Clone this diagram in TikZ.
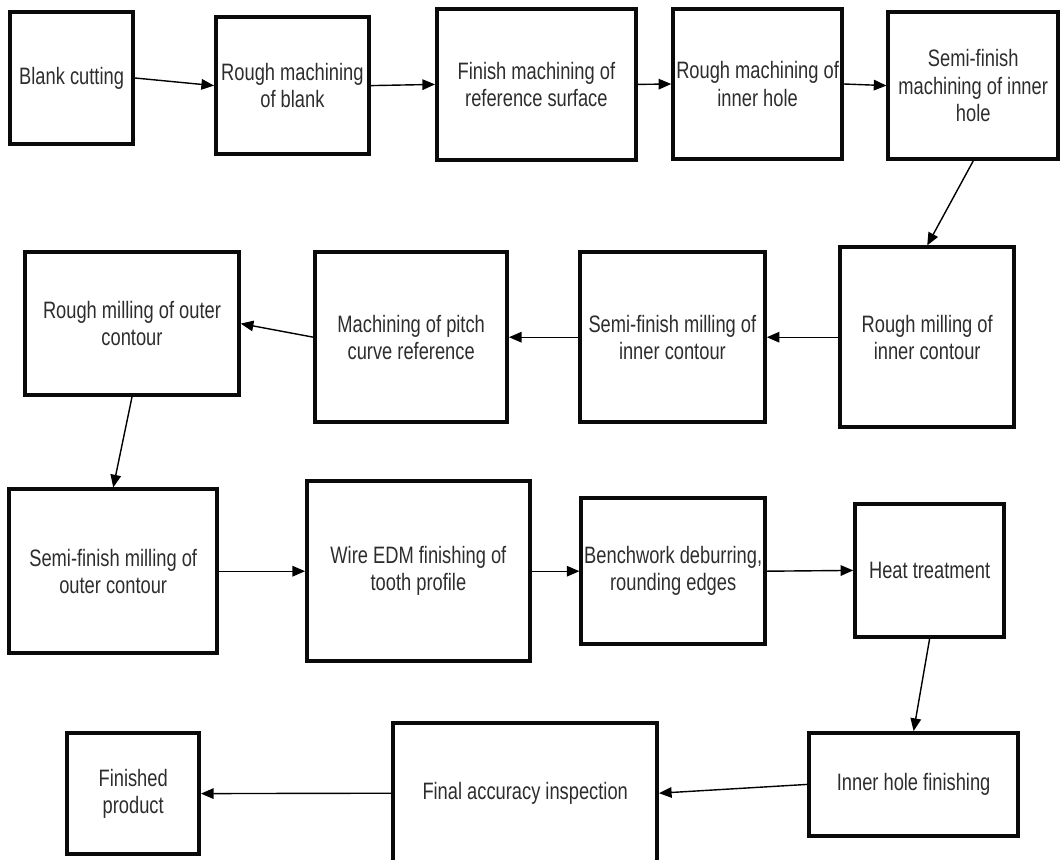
\documentclass[tikz,border=0pt]{standalone}
\usepackage{fontspec}
\setmainfont[FakeStretch=0.77]{Liberation Sans}
\definecolor{boxline}{RGB}{10, 10, 10}
\definecolor{labelgray}{RGB}{45, 45, 45}
\usepackage{tikz}
\usetikzlibrary{arrows.meta, positioning}

\begin{document}
\begin{tikzpicture}[
    stepbox/.style={draw=boxline, line width=2.5pt, align=center, inner sep=0pt,
      text=labelgray, font=\fontsize{16.9}{19.4}\selectfont},
    flow/.style={-{Triangle[length=9pt, width=7.5pt]}, line width=1pt, black}
  ]
  \path[use as bounding box, clip] (0, 0) rectangle (26.5, -21.475);

  % Row 1
  \node[stepbox, minimum width=3.08cm, minimum height=3.30cm] (blank) at (1.79, -1.95) {Blank cutting};
  \node[stepbox, minimum width=3.83cm, minimum height=3.43cm] (roughblank) at (7.31, -2.14) {Rough machining\\of blank};
  \node[stepbox, minimum width=4.98cm, minimum height=3.78cm] (finishref) at (13.41, -2.11) {Finish machining of\\reference surface};
  \node[stepbox, minimum width=4.23cm, minimum height=3.75cm] (roughhole) at (18.94, -2.10) {Rough machining of\\inner hole};
  \node[stepbox, minimum width=4.25cm, minimum height=3.68cm] (semihole) at (24.33, -2.14) {Semi-finish\\machining of inner\\hole};

  % Row 2
  \node[stepbox, minimum width=4.35cm, minimum height=4.50cm] (roughinner) at (23.18, -8.43) {Rough milling of\\inner contour};
  \node[stepbox, minimum width=4.63cm, minimum height=4.25cm] (semiinner) at (16.81, -8.43) {Semi-finish milling of\\inner contour};
  \node[stepbox, minimum width=4.80cm, minimum height=4.25cm] (pitch) at (10.28, -8.43) {Machining of pitch\\curve reference};
  \node[stepbox, minimum width=5.35cm, minimum height=3.58cm] (roughouter) at (3.30, -8.09) {Rough milling of outer\\contour};

  % Row 3
  \node[stepbox, minimum width=5.20cm, minimum height=4.10cm] (semiouter) at (2.83, -14.28) {Semi-finish milling of\\outer contour};
  \node[stepbox, minimum width=5.58cm, minimum height=4.50cm] (wire) at (10.46, -14.28) {Wire EDM finishing of\\tooth profile};
  \node[stepbox, minimum width=4.60cm, minimum height=3.65cm] (bench) at (16.83, -14.28) {Benchwork deburring,\\rounding edges};
  \node[stepbox, minimum width=3.73cm, minimum height=3.33cm] (heat) at (23.24, -14.26) {Heat treatment};

  % Row 4
  \node[stepbox, minimum width=5.23cm, minimum height=2.58cm] (innerfin) at (22.84, -19.61) {Inner hole finishing};
  \node[stepbox, minimum width=6.60cm, minimum height=3.50cm] (final) at (13.13, -19.83) {Final accuracy inspection};
  \node[stepbox, minimum width=3.30cm, minimum height=3.03cm] (finished) at (3.33, -19.84) {Finished\\product};

  % process flow
  \draw[flow] (blank.east) -- (roughblank.west);
  \draw[flow] (roughblank.east) -- (finishref.west);
  \draw[flow] (finishref.east) -- (roughhole.west);
  \draw[flow] (roughhole.east) -- (semihole.west);
  \draw[flow] (semihole.south) -- (roughinner.north);
  \draw[flow] (roughinner.west) -- (semiinner.east);
  \draw[flow] (semiinner.west) -- (pitch.east);
  \draw[flow] (pitch.west) -- (roughouter.east);
  \draw[flow] (roughouter.south) -- (semiouter.north);
  \draw[flow] (semiouter.east) -- (wire.west);
  \draw[flow] (wire.east) -- (bench.west);
  \draw[flow] (bench.east) -- (heat.west);
  \draw[flow] (heat.south) -- (innerfin.north);
  \draw[flow] (innerfin.west) -- (final.east);
  \draw[flow] (final.west) -- (finished.east);
\end{tikzpicture}
\end{document}
